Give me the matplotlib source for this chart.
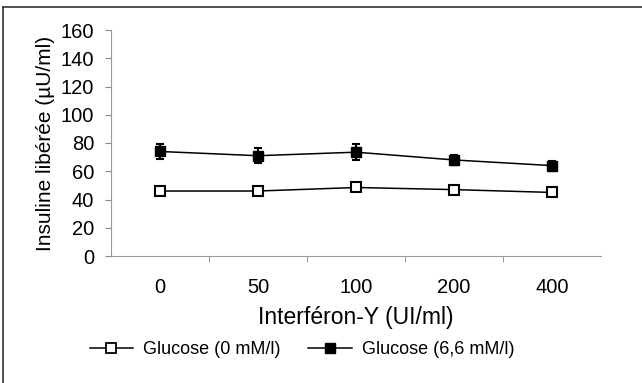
import numpy as np
import matplotlib.pyplot as plt
from matplotlib.lines import Line2D

plt.rcParams['font.family'] = ['Liberation Sans', 'DejaVu Sans']

doses = ['0', '50', '100', '200', '400']
gluc0 = [46, 46, 48.5, 47, 45]
gluc0_err = [2, 2, 2, 2, 2]
gluc66 = [74, 71, 73.5, 68, 64]
gluc66_err = [5, 5.5, 5.5, 3.5, 3.5]

fig = plt.figure(figsize=(6.42, 3.83), dpi=100)
ax = fig.add_axes([111/642, 1-256/383, 490/642, 226/383])

x = np.arange(len(doses))
ax.errorbar(x, gluc0, yerr=gluc0_err, color='black', lw=1.1, marker='s', ms=7.5,
            mfc='white', mec='black', mew=1.5, capsize=3, elinewidth=1.5, capthick=1.5,
            label='Glucose (0 mM/l)')
ax.errorbar(x, gluc66, yerr=gluc66_err, color='black', lw=1.1, marker='s', ms=7.5,
            mfc='black', mec='black', capsize=3, elinewidth=1.5, capthick=1.5,
            label='Glucose (6,6 mM/l)')

ax.set_xlim(-0.5, 4.5)
ax.set_ylim(0, 160)
ax.set_yticks(range(0, 161, 20))
ax.set_xticks(x)
ax.set_xticklabels(doses)
ax.set_xticks(np.arange(0.5, 4, 1), minor=True)
ax.tick_params(axis='x', which='major', length=0, pad=16, labelsize=14.5)
ax.tick_params(axis='x', which='minor', length=4, color='#888888')
ax.tick_params(axis='y', length=4, color='#888888', labelsize=14.5, pad=8)
for s in ['top', 'right']:
    ax.spines[s].set_visible(False)
for s in ['left', 'bottom']:
    ax.spines[s].set_color('#999999')
    ax.spines[s].set_linewidth(0.8)

ax.set_xlabel('Interféron-Y (UI/ml)', fontsize=16.5, labelpad=6)
ax.set_ylabel('Insuline libérée (µU/ml)', fontsize=15, labelpad=4)

h0 = Line2D([], [], color='black', lw=1.1, marker='s', ms=7, mfc='white', mec='black', mew=1.3)
h1 = Line2D([], [], color='black', lw=1.1, marker='s', ms=7, mfc='black', mec='black')
fig.legend([h0, h1], ['Glucose (0 mM/l)', 'Glucose (6,6 mM/l)'], loc='center',
           bbox_to_anchor=(302/642, 1-350/383), ncol=2, frameon=False, fontsize=13,
           handlelength=2.4, handletextpad=0.55, columnspacing=1.55)

# frame around the figure
fig.add_artist(Line2D([3/642, 1], [1-7/383, 1-7/383], color='#333333', lw=1.2))
fig.add_artist(Line2D([3/642, 3/642], [0, 1-7/383], color='#333333', lw=1.2))

fig.savefig('out.png', dpi=100)
